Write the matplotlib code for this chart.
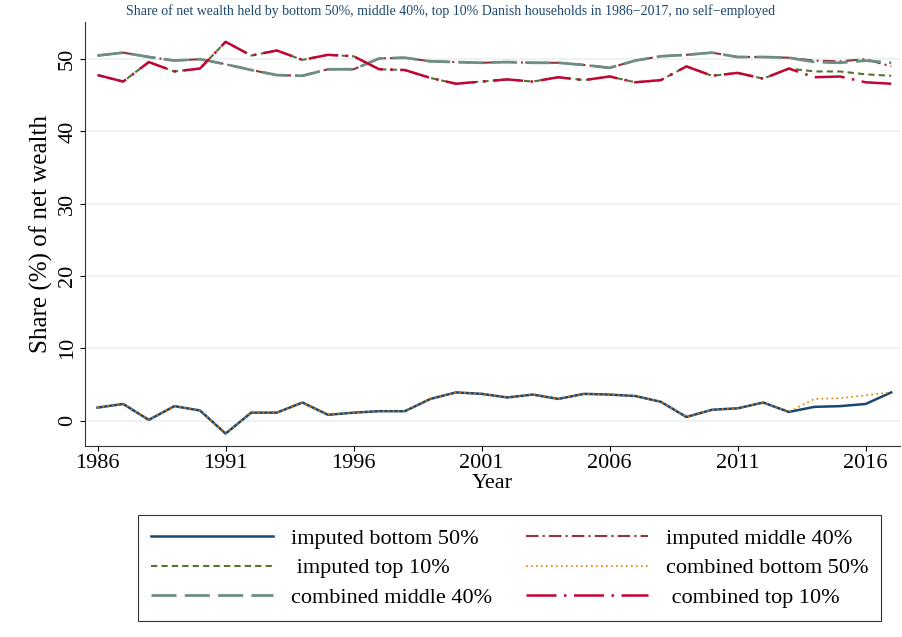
import matplotlib
matplotlib.use("Agg")
import matplotlib.pyplot as plt

years = list(range(1986, 2018))
imp_bottom = [1.8,2.3,0.1,2.0,1.4,-1.8,1.1,1.1,2.5,0.8,1.1,1.3,1.3,3.0,3.9,3.7,3.2,3.6,3.0,3.7,3.6,3.4,2.6,0.5,1.5,1.7,2.5,1.2,1.9,2.0,2.3,3.9]
comb_bottom = imp_bottom[:28] + [3.0,3.1,3.5,3.9]
imp_middle = [50.5,50.9,50.3,49.8,50.0,49.3,48.5,47.8,47.7,48.6,48.6,50.1,50.2,49.7,49.6,49.5,49.6,49.5,49.5,49.2,48.8,49.8,50.4,50.6,50.9,50.3,50.3,50.2,49.8,49.7,50.0,49.0]
comb_middle = imp_middle[:28] + [49.6,49.5,49.8,49.5]
imp_top = [47.8,46.9,49.6,48.3,48.7,52.4,50.5,51.2,49.9,50.6,50.4,48.6,48.5,47.4,46.6,46.9,47.2,46.9,47.5,47.1,47.6,46.8,47.1,49.0,47.7,48.1,47.3,48.7,48.3,48.3,47.9,47.7]
comb_top = imp_top[:28] + [47.5,47.6,46.8,46.6]

plt.rcParams['font.family'] = ['Liberation Serif', 'DejaVu Serif']
fig = plt.figure(figsize=(9.02, 6.37), dpi=100)
ax = fig.add_axes([0.094, 0.30, 0.904, 0.665])
ax.plot(years, imp_bottom, color='#1a476f', lw=1.8, label='imputed bottom 50%')
ax.plot(years, imp_middle, color='#90353b', lw=1.5, ls=(0,(6,2,1,2)), label='imputed middle 40%')
ax.plot(years, imp_top, color='#55752f', lw=1.5, ls=(0,(3,2)), label=' imputed top 10%')
ax.plot(years, comb_bottom, color='#e37e00', lw=1.2, ls=(0,(1,2)), label='combined bottom 50%')
ax.plot(years, comb_middle, color='#6e8e84', lw=2, ls=(0,(9,3)), label='combined middle 40%')
ax.plot(years, comb_top, color='#c10534', lw=1.8, ls=(0,(12,3,1,3)), label=' combined top 10%')
ax.set_xlim(1985.5, 2017.35)
ax.set_ylim(-3.5, 55.1)
ax.set_xticks(range(1986, 2017, 5))
ax.set_yticks(range(0, 51, 10))
ax.yaxis.grid(True, color='#eaf0f2', lw=1.2)
ax.set_axisbelow(True)
for s in ['top', 'right']:
    ax.spines[s].set_visible(False)
for s in ['left', 'bottom']:
    ax.spines[s].set_color('#333333')
ax.tick_params(labelsize=16, pad=2)
for lab in ax.get_yticklabels():
    lab.set_rotation(90); lab.set_va('center')
ax.set_xlabel('Year', fontsize=16, labelpad=1)
ax.set_ylabel('Share (%) of net wealth', fontsize=18, labelpad=4)
fig.text(0.5, 0.982, 'Share of net wealth held by bottom 50%, middle 40%, top 10% Danish households in 1986\u22122017, no self\u2212employed',
         ha='center', va='center', fontsize=10, color='#1a476f')
h, l = ax.get_legend_handles_labels()
order = [0, 2, 4, 1, 3, 5]
leg = fig.legend([h[i] for i in order], [l[i] for i in order], ncol=2, loc='center',
                 bbox_to_anchor=(0.565, 0.108), fontsize=16, frameon=True, fancybox=False,
                 edgecolor='black', handlelength=5.5, columnspacing=1.5, borderpad=0.6,
                 labelspacing=0.4, handletextpad=0.8)
leg.get_frame().set_linewidth(0.8)
fig.savefig('out.png', dpi=100)
